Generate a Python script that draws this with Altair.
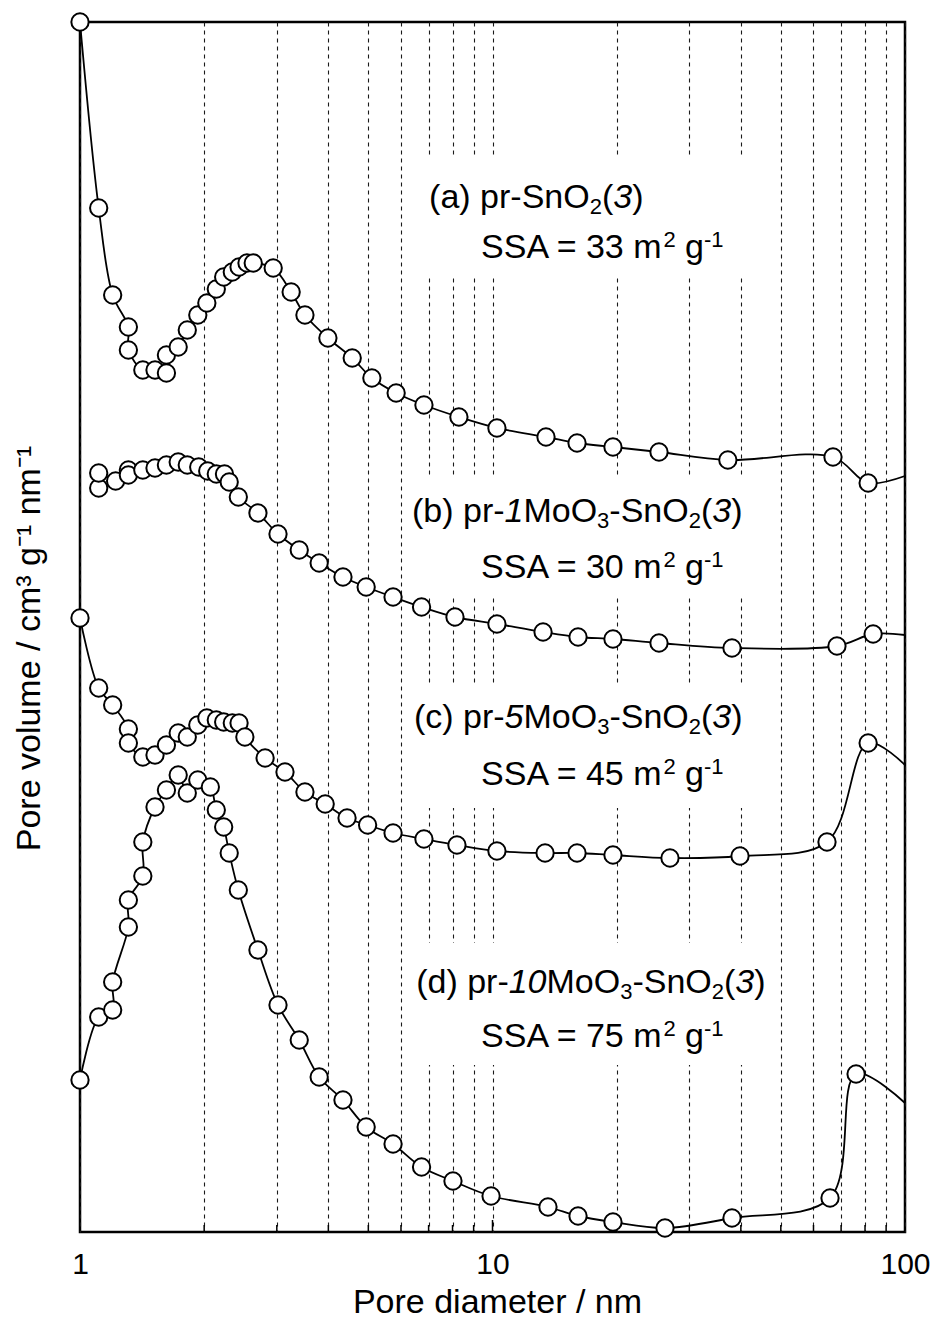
import altair as alt
import pandas as pd

# ---------------- data ----------------
# pore diameter (nm) and stacked pore volume (arbitrary offset units)
a_x = [1.00, 1.11, 1.20, 1.31, 1.31, 1.42, 1.52, 1.62, 1.62, 1.73, 1.82, 1.93, 2.03, 2.14, 2.23, 2.34, 2.43, 2.54,
       2.63, 2.94, 3.25, 3.51, 3.99, 4.57, 5.10, 5.84, 6.82, 8.29, 10.25, 13.48, 16.03, 19.59, 25.33, 37.2, 66.9, 81.4]
a_y = [1210, 1024, 937, 905, 882, 862, 862, 859, 877, 885, 902, 917, 929, 943, 955, 960, 965, 969,
       969, 964, 940, 917, 894, 874, 854, 839, 827, 815, 804, 795, 789, 785, 780, 772, 775, 749]

b_x = [1.11, 1.11, 1.22, 1.31, 1.31, 1.42, 1.52, 1.62, 1.73, 1.82, 1.94, 2.04, 2.14, 2.24, 2.30, 2.42, 2.70,
       3.02, 3.40, 3.80, 4.34, 4.94, 5.74, 6.73, 8.11, 10.25, 13.26, 16.12, 19.59, 25.33, 38.07, 68.4, 83.7]
b_y = [744, 759, 751, 762, 757, 762, 764, 767, 770, 767, 765, 761, 758, 758, 750, 735, 719,
       698, 682, 669, 655, 645, 635, 625, 615, 608, 600, 595, 593, 589, 584, 586, 598]

c_x = [1.00, 1.11, 1.20, 1.31, 1.31, 1.42, 1.52, 1.62, 1.73, 1.82, 1.93, 2.03, 2.14, 2.23, 2.34, 2.43, 2.51,
       2.81, 3.14, 3.51, 3.93, 4.44, 4.98, 5.74, 6.82, 8.20, 10.25, 13.41, 16.03, 19.59, 26.93, 39.81, 64.7, 81.4]
c_y = [614, 544, 527, 503, 489, 475, 477, 487, 499, 495, 507, 514, 512, 510, 509, 509, 495,
       474, 460, 440, 428, 414, 407, 399, 393, 387, 381, 379, 379, 377, 374, 376, 390, 489]

d_x = [1.00, 1.11, 1.20, 1.20, 1.31, 1.31, 1.42, 1.42, 1.52, 1.62, 1.73, 1.82, 1.93, 2.07, 2.14, 2.23, 2.30,
       2.42, 2.70, 3.02, 3.40, 3.80, 4.34, 4.94, 5.74, 6.73, 8.02, 9.92, 13.63, 16.12, 19.59, 26.19, 38.07,
       65.8, 76.1]
d_y = [152, 215, 222, 250, 305, 332, 356, 390, 425, 442, 457, 439, 452, 445, 422, 405, 379,
       342, 282, 227, 192, 155, 132, 105, 88, 65, 51, 36, 25, 16, 10, 4, 14,
       34, 158]

# where each curve leaves the frame at 100 nm (line only, no marker)
tail_x = [100, 100, 100, 100]
tail_y = [756, 597, 467, 129]

series_names = ["a", "b", "c", "d"]

grid_vals = [1, 2, 3, 4, 5, 6, 7, 8, 9, 10, 20, 30, 40, 50, 60, 70, 80, 90, 100]
minor_ticks = [2, 3, 4, 5, 6, 7, 8, 9, 20, 30, 40, 50, 60, 70, 80, 90]
major_ticks = [10]

# annotation text lines: start x (nm), baseline y, segments (text, style)
label_x = [7.02, 9.38, 6.38, 9.38, 6.45, 9.38, 6.53, 9.38]
label_y = [1024, 974, 710, 654, 504, 447, 239, 185]
label_segments = [
    [("(a) pr-SnO", "n"), ("2", "sub"), ("(", "n"), ("3", "i"), (")", "n")],
    [("SSA = 33 m", "n"), ("2", "sup"), (" g", "n"), ("-1", "sup")],
    [("(b) pr-", "n"), ("1", "i"), ("MoO", "n"), ("3", "sub"), ("-SnO", "n"), ("2", "sub"), ("(", "n"), ("3", "i"), (")", "n")],
    [("SSA = 30 m", "n"), ("2", "sup"), (" g", "n"), ("-1", "sup")],
    [("(c) pr-", "n"), ("5", "i"), ("MoO", "n"), ("3", "sub"), ("-SnO", "n"), ("2", "sub"), ("(", "n"), ("3", "i"), (")", "n")],
    [("SSA = 45 m", "n"), ("2", "sup"), (" g", "n"), ("-1", "sup")],
    [("(d) pr-", "n"), ("10", "i"), ("MoO", "n"), ("3", "sub"), ("-SnO", "n"), ("2", "sub"), ("(", "n"), ("3", "i"), (")", "n")],
    [("SSA = 75 m", "n"), ("2", "sup"), (" g", "n"), ("-1", "sup")],
]

# white boxes behind the annotations (interrupt the dashed grid)
box_x = [6.5, 6.5, 6.5, 6.5]
box_x2 = [45, 45, 45, 45]
box_y = [955, 634, 424, 167]
box_y2 = [1077, 754, 549, 289]

# ---------------- layout ----------------
W, H = 825, 1210
FONT = "Liberation Sans"
FS, SFS = 34, 22
PX_PER_DEC = W / 2.0

ARIAL = {' ': 278, '(': 333, ')': 333, '-': 333, '=': 584, '/': 278, 'a': 556, 'b': 556, 'c': 500,
         'd': 556, 'e': 556, 'g': 556, 'm': 833, 'n': 556, 'o': 556, 'p': 556, 'r': 333, 'A': 667,
         'M': 833, 'O': 778, 'S': 667}
for ch in "0123456789":
    ARIAL[ch] = 556


def text_width(s, fs):
    return sum(ARIAL.get(ch, 556) for ch in s) * fs / 1000.0


seg_rows = []
for x0, y0, segs in zip(label_x, label_y, label_segments):
    off = 0.0
    for txt, style in segs:
        fs = FS if style in ("n", "i") else SFS
        shift = -6 if style == "sub" else (11 if style == "sup" else 0)
        lead = len(txt) - len(txt.lstrip(" "))
        off += text_width(" " * lead, fs)
        core = txt.lstrip(" ")
        seg_rows.append({"x": x0 * 10 ** (off / PX_PER_DEC), "y": y0 + shift, "text": core, "style": style})
        off += text_width(core, fs)
segs_df = pd.DataFrame(seg_rows)

rows = []
for name, xs, ys, tx, ty in zip(series_names, [a_x, b_x, c_x, d_x], [a_y, b_y, c_y, d_y], tail_x, tail_y):
    for i, (x, y) in enumerate(zip(xs, ys)):
        rows.append({"series": name, "x": x, "y": y, "idx": i, "marker": True})
    rows.append({"series": name, "x": tx, "y": ty, "idx": len(xs), "marker": False})
df = pd.DataFrame(rows)

xscale = alt.Scale(type="log", domain=[1, 100], nice=False)
yscale = alt.Scale(domain=[0, 1210], nice=False, zero=False)

xaxis = alt.Axis(values=grid_vals, grid=True, gridDash=[4, 4], gridColor="#1a1a1a", gridWidth=1.1,
                 ticks=False, tickSize=0, domain=False, labelFlush=False, labelOverlap=False,
                 labelExpr="(datum.value == 1 || datum.value == 10 || datum.value == 100) ? datum.label : ''",
                 labelFontSize=30, labelColor="black", labelFont=FONT, labelPadding=17,
                 title="Pore diameter / nm", titleFontSize=34, titleFontWeight="normal", titleColor="black",
                 titleFont=FONT, titleX=417, titleY=80, titleBaseline="alphabetic")
yaxis = alt.Axis(labels=False, ticks=False, domain=False, grid=False,
                 title="Pore volume / cm³ g⁻¹ nm⁻¹", titleFontSize=34, titleFontWeight="normal",
                 titleColor="black", titleFont=FONT, titleX=-51, titleY=626, titleAngle=270,
                 titleBaseline="middle", titleAlign="center")

X = alt.X("x:Q", scale=xscale, axis=xaxis)
Y = alt.Y("y:Q", scale=yscale, axis=yaxis)

base_grid = alt.Chart(pd.DataFrame({"x": grid_vals, "y": [0] * len(grid_vals)})).mark_point(opacity=0).encode(x=X, y=Y)

boxes = alt.Chart(pd.DataFrame({"x": box_x, "x2": box_x2, "y": box_y, "y2": box_y2})).mark_rect(
    color="white").encode(x=X, x2="x2:Q", y=Y, y2="y2:Q")

minor = alt.Chart(pd.DataFrame({"x": minor_ticks})).mark_rule(color="black", strokeWidth=1.5).encode(
    x=X, y=alt.value(H), y2=alt.value(H - 7))
major = alt.Chart(pd.DataFrame({"x": major_ticks})).mark_rule(color="black", strokeWidth=1.5).encode(
    x=X, y=alt.value(H), y2=alt.value(H - 12))

text_layers = []
for style, fs, fstyle in [("n", FS, "normal"), ("i", FS, "italic"), ("sub", SFS, "normal"), ("sup", SFS, "normal")]:
    sub = segs_df[segs_df["style"] == style]
    text_layers.append(
        alt.Chart(sub).mark_text(align="left", baseline="alphabetic", fontSize=fs, fontStyle=fstyle,
                                 font=FONT, color="black").encode(x=X, y=Y, text="text:N"))

lines = alt.Chart(df).mark_line(color="black", strokeWidth=1.8, interpolate="catmull-rom").encode(
    x=X, y=Y, detail="series:N", order="idx:Q")

points = alt.Chart(df[df["marker"]]).mark_circle(size=300, fill="white", stroke="black", strokeWidth=2,
                                                  opacity=1, fillOpacity=1).encode(
    x=X, y=Y, detail="series:N", order="idx:Q")

chart = alt.layer(base_grid, boxes, minor, major, *text_layers, lines, points).properties(
    width=W, height=H,
    padding={"left": 80, "top": 22, "right": 31, "bottom": 87},
    autosize=alt.AutoSizeParams(type="none"),
    background="white",
).configure(font=FONT).configure_view(stroke="black", strokeWidth=2.5)

chart.save("out.html", embed_options={"renderer": "svg", "actions": False})
